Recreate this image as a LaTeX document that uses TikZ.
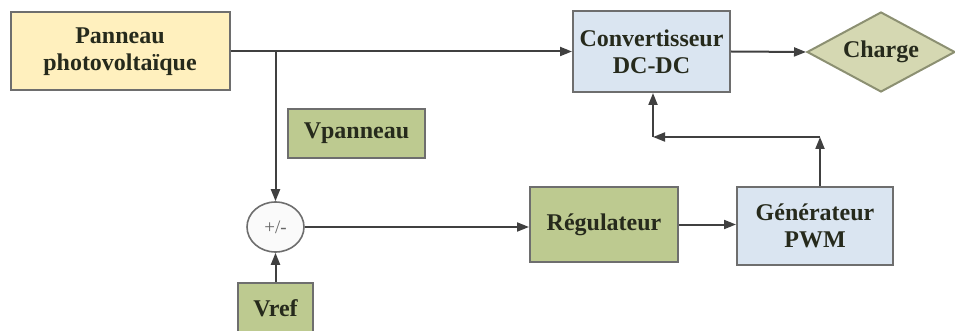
\documentclass[tikz,border=0pt]{standalone}
\usepackage{fontspec}
\setmainfont{Liberation Serif}
\usetikzlibrary{shapes.geometric,arrows.meta}

\definecolor{txt}{HTML}{262A1C}
\definecolor{edge}{HTML}{6E6E6E}
\definecolor{wire}{HTML}{404040}
\definecolor{panelfill}{HTML}{FFF0BE}
\definecolor{bluefill}{HTML}{DAE5F1}
\definecolor{greenfill}{HTML}{BDCA90}
\definecolor{loadfill}{HTML}{D5D8B2}
\definecolor{loadedge}{HTML}{8C9072}

\tikzset{
  lbl/.style={font=\fontsize{24}{27}\selectfont\bfseries, text=txt, align=center},
  block/.style={lbl, draw=edge, line width=2pt, rectangle, inner sep=0pt},
  panelbox/.style={block, fill=panelfill},
  bluebox/.style={block, fill=bluefill},
  greenbox/.style={block, fill=greenfill},
  loadbox/.style={lbl, diamond, draw=loadedge, line width=2pt, fill=loadfill, inner sep=0pt, aspect=1.85},
  sumnode/.style={ellipse, draw=edge, line width=1.6pt, fill=gray!4, inner sep=0pt,
                  font=\fontsize{19}{22}\selectfont, text=gray!80!black},
  arr/.style={draw=wire, line width=2pt, -{Triangle[length=12pt,width=9pt]}},
}

\begin{document}
\begin{tikzpicture}[x=1pt, y=-1pt]
  \clip (0,0) rectangle (955,331);

  % blocks
  \node[panelbox, minimum width=219pt, minimum height=78pt] (panel) at (120,51.5) {Panneau\\photovoltaïque};
  \node[bluebox, minimum width=157pt, minimum height=81pt] (conv) at (651.5,51.5) {Convertisseur\\DC-DC};
  \node[loadbox, minimum width=148pt, minimum height=80pt] (load) at (881,52) {Charge};
  \node[greenbox, minimum width=137pt, minimum height=49pt] (vpan) at (356.5,133.5) {Vpanneau};
  \node[sumnode, minimum width=57pt, minimum height=50pt] (sum) at (275.5,227) {+/-};
  \node[greenbox, minimum width=75pt, minimum height=50pt] (vref) at (275.5,308) {Vref};
  \node[greenbox, minimum width=148pt, minimum height=75pt] (reg) at (604,224.5) {Régulateur};
  \node[bluebox, minimum width=156pt, minimum height=78pt] (pwm) at (815,226) {Générateur\\PWM};

  % junction points
  \coordinate (br) at (275.5,51.5);
  \coordinate (fbR) at (820,137);
  \coordinate (fbL) at (653,137);

  % power path
  \draw[arr] (panel.east) -- (conv.west);
  \draw[arr] (conv.east) -- (load.west);

  % measurement and reference into the comparator
  \draw[arr] (br) -- (sum.north);
  \draw[arr] (vref.north) -- (sum.south);

  % control chain
  \draw[arr] (sum.east) -- (sum.east -| reg.west);
  \draw[arr] (reg.east) -- (reg.east -| pwm.west);

  % PWM feedback to the converter
  \draw[arr] (pwm.north -| fbR) -- (fbR);
  \draw[arr] (fbR) -- (fbL);
  \draw[arr] (fbL) -- (fbL |- conv.south);
\end{tikzpicture}
\end{document}
